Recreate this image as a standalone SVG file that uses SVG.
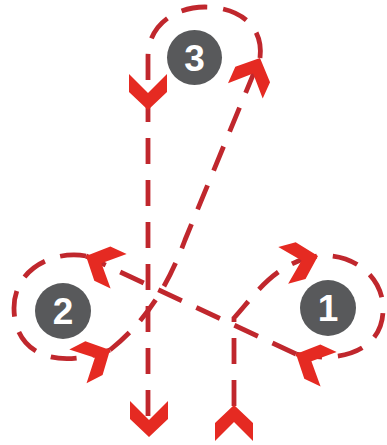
<svg xmlns="http://www.w3.org/2000/svg" xmlns:xlink="http://www.w3.org/1999/xlink" width="387" height="445" viewBox="0 0 387 445">
<style>
.route{fill:none;stroke:#c0272d;stroke-width:4.8;stroke-dasharray:26 16;stroke-linecap:butt}
.head{fill:#e52a22}
.badge{fill:#58595b}
.num{fill:#ffffff;font-family:"Liberation Sans",Arial,sans-serif;font-weight:bold;font-size:37px;text-anchor:middle}
</style>
<defs>
<polygon id="chev" points="0,0 -18,-19 -36,-19 -17,0 -36,19 -18,19"/>
</defs>
<rect width="387" height="445" fill="#ffffff"/>
<g id="connectors">
<path class="route" d="M234,406 L234,318 C255,295 275,262 318,256 C350,252 384,275 383,310 C383,345 350,365 296,354"/>
<path class="route" d="M296,354 L86,256"/>
<path class="route" d="M86,256 C55,250 14,268 14,308 C14,350 50,372 110,350"/>
<path class="route" d="M110,350 C150,318 170,280 185,240 L260,58"/>
<path class="route" d="M260,58 C264,25 238,7 205,7 C175,7 148,25 148,57 L148,428"/>
<use class="head" xlink:href="#chev" transform="translate(318,256) rotate(-15)"/>
<use class="head" xlink:href="#chev" transform="translate(296,354) rotate(205)"/>
<use class="head" xlink:href="#chev" transform="translate(86,256) rotate(205)"/>
<use class="head" xlink:href="#chev" transform="translate(110,350) rotate(-27)"/>
<use class="head" xlink:href="#chev" transform="translate(260,58) rotate(-66)"/>
<use class="head" xlink:href="#chev" transform="translate(148,110) rotate(90)"/>
<use class="head" xlink:href="#chev" transform="translate(149,437) rotate(90)"/>
<use class="head" xlink:href="#chev" transform="translate(234,405) rotate(-90)"/>
</g>
<g id="node-1">
<circle class="badge" cx="328" cy="308" r="28"/>
<text class="num" x="328" y="321">1</text>
</g>
<g id="node-2">
<circle class="badge" cx="63" cy="311" r="28"/>
<text class="num" x="63" y="324">2</text>
</g>
<g id="node-3">
<circle class="badge" cx="194.5" cy="57.5" r="27.5"/>
<text class="num" x="194.5" y="70.5">3</text>
</g>
</svg>
